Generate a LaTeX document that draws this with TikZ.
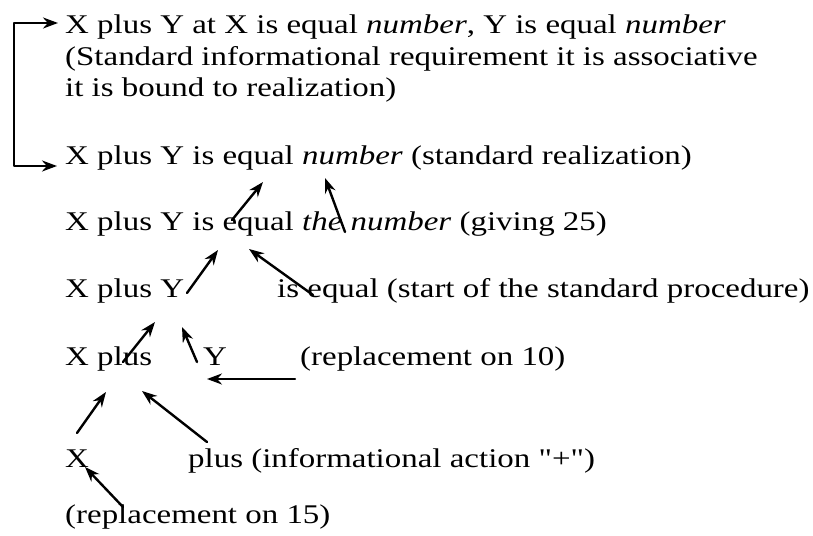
\documentclass[tikz,border=0pt]{standalone}
\usepackage{fontspec}
\setmainfont{Liberation Serif}[FakeStretch=1.22, Ligatures=TeXOff]
\usetikzlibrary{arrows.meta}

\begin{document}
\begin{tikzpicture}[x=1pt, y=-1pt, line cap=round, line join=round,
    >={Stealth[length=15pt, width=11pt]}, font=\fontsize{27}{31}\selectfont,
    txt/.style={anchor=base west, inner sep=0pt},
    arr/.style={->, line width=2.4pt}]
  % page frame
  \useasboundingbox (0,0) rectangle (813,535);

  % Lines of text (baselines)
  \node[txt] (l1) at (65,34) {X plus Y at X is equal \textit{number}, Y is equal \textit{number}};
  \node[txt] (l2) at (65,65) {(Standard informational requirement it is associative};
  \node[txt] (l3) at (65,96) {it is bound to realization)};
  \node[txt] (l4) at (65,164) {X plus Y is equal \textit{number} (standard realization)};
  \node[txt] (l5) at (65,230) {X plus Y is equal \textit{the number} (giving 25)};
  \node[txt] (xy) at (65,297) {X plus Y};
  \node[txt] (eq) at (277,297) {is equal (start of the standard procedure)};
  \node[txt] (xp) at (65,365) {X plus};
  \node[txt] (y) at (203,365) {Y};
  \node[txt] (r10) at (300,365) {(replacement on 10)};
  \node[txt] (x) at (65,467) {X};
  \node[txt] (pl) at (188,467) {plus (informational action "+")};
  \node[txt] (r15) at (65,523) {(replacement on 15)};

  % Bracket between first and fourth line
  \draw[line width=2.4pt, <->] ([shift={(-7,-11)}]l1.base west) -- ++(-44,0)
    |- ([shift={(-8,2)}]l4.base west);

  % Arrow ends
  \coordinate (a0) at (232,220); \coordinate (a1) at (263,182);
  \coordinate (b0) at (345,232); \coordinate (b1) at (325,178);
  \coordinate (c0) at (187,293); \coordinate (c1) at (218,250);
  \coordinate (d0) at (313,295); \coordinate (d1) at (249,249);
  \coordinate (e0) at (123,362); \coordinate (e1) at (155,322);
  \coordinate (f0) at (197,362); \coordinate (f1) at (182,327);
  \coordinate (g0) at (295,379); \coordinate (g1) at (207,379);
  \coordinate (h0) at (77,433);  \coordinate (h1) at (106,392);
  \coordinate (i0) at (207,442); \coordinate (i1) at (142,391);
  \coordinate (j0) at (123,507); \coordinate (j1) at (85,467);

  \foreach \p in {a,b,c,d,e,f,g,h,i,j}
    \draw[arr] (\p0) -- (\p1);
\end{tikzpicture}
\end{document}
